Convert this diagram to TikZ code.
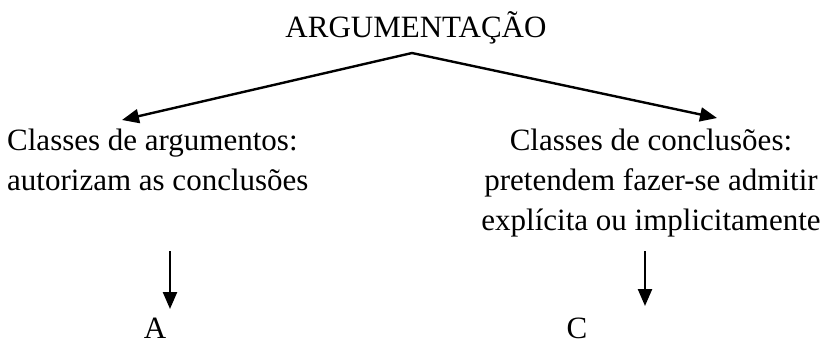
\documentclass[tikz,border=0pt]{standalone}
\usepackage{fontspec}
\setmainfont{Liberation Serif}
\usetikzlibrary{arrows.meta}
\begin{document}
\begin{tikzpicture}[x=1pt,y=-1pt,
  txt/.style={inner sep=0pt,font=\fontsize{31}{40}\selectfont},
  arr/.style={line width=2.4pt,-{Triangle[length=17pt,width=14pt]}}]
\useasboundingbox (0,0) rectangle (827,346);
\node[txt,anchor=base] (t) at (416,37) {ARGUMENTAÇÃO};
\coordinate (apex) at (412,53);
\node[txt,anchor=north west,align=left] (l) at (7,129)
  {Classes de argumentos:\\autorizam as conclusões};
\node[txt,anchor=north,align=center] (r) at (651,129)
  {Classes de conclusões:\\pretendem fazer-se admitir\\explícita ou implicitamente};
\coordinate (lt) at (122,120);
\coordinate (rt) at (717,118);
\draw[arr] (apex) -- (lt);
\draw[arr] (apex) -- (rt);
\node[txt,anchor=base] (a) at (155,338) {A};
\node[txt,anchor=base] (c) at (577,338) {C};
\coordinate (la) at (170,251);
\coordinate (lb) at (170,309);
\coordinate (ra) at (645,251);
\coordinate (rb) at (645,306);
\draw[arr] (la) -- (lb);
\draw[arr] (ra) -- (rb);
\end{tikzpicture}
\end{document}
